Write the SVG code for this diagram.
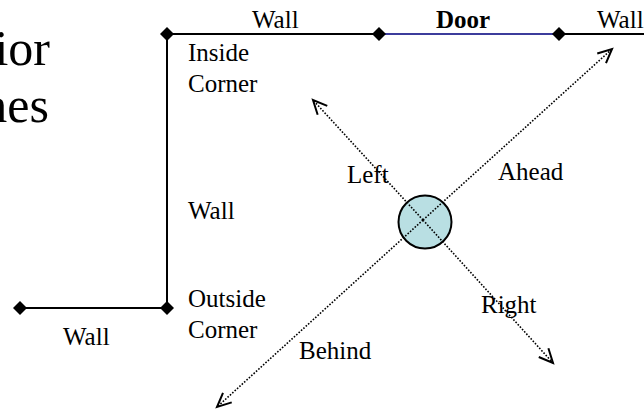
<svg xmlns="http://www.w3.org/2000/svg" width="644" height="411" viewBox="0 0 644 411">
  <style>
    .lbl { font-family: "Liberation Serif", "Times New Roman", serif; font-size: 25px; fill: #000; }
    .title { font-family: "Liberation Serif", "Times New Roman", serif; font-size: 50px; fill: #000; }
    .wall { stroke: #000; stroke-width: 2; fill: none; }
    .door { stroke: #3c3c9c; stroke-width: 2; fill: none; }
    .dir { stroke: #000; stroke-width: 1.6; stroke-dasharray: 1.6 1.6; fill: none; marker-end: url(#open); }
    .pt { fill: #000; }
  </style>
  <defs>
    <marker id="open" markerUnits="userSpaceOnUse" markerWidth="20" markerHeight="20" viewBox="-16 -10 20 20" refX="0" refY="0" orient="auto">
      <path d="M-14,-6.5 L0,0 L-14,6.5" fill="none" stroke="#000" stroke-width="2"/>
    </marker>
    <path id="diamond" d="M0,-7 L7,0 L0,7 L-7,0 Z"/>
  </defs>

  <!-- heading fragment at the left edge -->
  <text class="title" x="50" y="65" text-anchor="end">ior</text>
  <text class="title" x="49" y="122" text-anchor="end">nes</text>

  <!-- walls and door -->
  <g id="connectors">
    <path class="wall" d="M167,34 H379"/>
    <path class="door" d="M379,34 H559"/>
    <path class="wall" d="M559,34 H644"/>
    <path class="wall" d="M167,34 V308"/>
    <path class="wall" d="M20,308 H167"/>
    <!-- direction arrows -->
    <path class="dir" d="M423,220 L612,49"/>
    <path class="dir" d="M423,220 L217,407"/>
    <path class="dir" d="M423,220 L313,100"/>
    <path class="dir" d="M423,220 L553,363"/>
  </g>

  <g id="inside-corner">
    <use href="#diamond" x="167" y="34" class="pt"/>
    <text class="lbl" x="188" y="61">Inside</text>
    <text class="lbl" x="188" y="92">Corner</text>
  </g>
  <g id="door-start"><use href="#diamond" x="379" y="34" class="pt"/></g>
  <g id="door-end"><use href="#diamond" x="559" y="34" class="pt"/></g>
  <g id="outside-corner">
    <use href="#diamond" x="167" y="308" class="pt"/>
    <text class="lbl" x="188" y="307">Outside</text>
    <text class="lbl" x="188" y="338">Corner</text>
  </g>
  <g id="wall-end"><use href="#diamond" x="20" y="308" class="pt"/></g>

  <g id="labels">
    <text class="lbl" x="252" y="28">Wall</text>
    <text class="lbl" x="436" y="28" font-weight="bold">Door</text>
    <text class="lbl" x="597" y="28">Wall</text>
    <text class="lbl" x="188" y="219">Wall</text>
    <text class="lbl" x="63" y="345">Wall</text>
    <text class="lbl" x="347" y="183">Left</text>
    <text class="lbl" x="498" y="180">Ahead</text>
    <text class="lbl" x="481" y="313">Right</text>
    <text class="lbl" x="299" y="359">Behind</text>
  </g>

  <g id="robot">
    <circle cx="425" cy="222" r="26.5" fill="#b9dfe3" stroke="#000" stroke-width="2"/>
    <path d="M423,220 L612,49 M423,220 L217,407 M423,220 L313,100 M423,220 L553,363" stroke="#000" stroke-width="1.6" stroke-dasharray="1.6 1.6" fill="none" clip-path="url(#disc)"/>
  </g>
  <defs>
    <clipPath id="disc"><circle cx="425" cy="222" r="25.5"/></clipPath>
  </defs>
</svg>
